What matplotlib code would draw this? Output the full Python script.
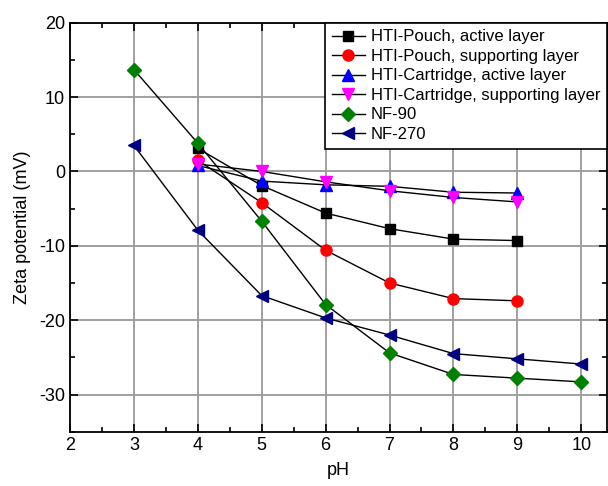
import numpy as np
import matplotlib.pyplot as plt

plt.rcParams['font.family'] = ['Liberation Sans', 'DejaVu Sans']
plt.rcParams['axes.unicode_minus'] = False

ph_short = [4, 5, 6, 7, 8, 9]
ph_long = [3, 4, 5, 6, 7, 8, 9, 10]

pouch_active = [3.1, -1.9, -5.6, -7.7, -9.1, -9.3]
pouch_support = [1.5, -4.2, -10.6, -15.0, -17.1, -17.4]
cart_active = [0.8, -1.3, -1.8, -2.0, -2.8, -2.9]
cart_support = [1.0, 0.0, -1.4, -2.6, -3.5, -4.1]
nf90 = [13.7, 3.8, -6.7, -17.9, -24.4, -27.3, -27.8, -28.3]
nf270 = [3.5, -7.9, -16.7, -19.7, -22.0, -24.5, -25.2, -25.9]

series = [
    (ph_short, pouch_active, 's', 'black', 7, 'HTI-Pouch, active layer'),
    (ph_short, pouch_support, 'o', 'red', 8, 'HTI-Pouch, supporting layer'),
    (ph_short, cart_active, '^', 'blue', 8, 'HTI-Cartridge, active layer'),
    (ph_short, cart_support, 'v', 'magenta', 8, 'HTI-Cartridge, supporting layer'),
    (ph_long, nf90, 'D', 'green', 7, 'NF-90'),
    (ph_long, nf270, '<', 'navy', 8, 'NF-270'),
]

fig = plt.figure(figsize=(6.08, 4.86), dpi=100)
ax = fig.add_axes([0.1151, 0.1117, 0.883, 0.8416])

for x, y, m, c, ms, lab in series:
    ax.plot(x, y, color='black', lw=1, marker=m, mfc=c, mec=c, ms=ms, label=lab)

ax.set_xlim(2, 10.4)
ax.set_ylim(-35, 20)
ax.set_xticks(range(2, 11))
ax.set_yticks([-30, -20, -10, 0, 10, 20])
ax.set_xticks(np.arange(2.5, 10.5, 1), minor=True)
ax.set_yticks([-35, -25, -15, -5, 5, 15], minor=True)
ax.grid(True, which='major', color='#a0a0a0', lw=1.4)
ax.set_axisbelow(True)
ax.tick_params(which='both', direction='in', top=True, right=True, labelsize=13, width=1.2)
ax.tick_params(which='major', length=6)
ax.tick_params(which='minor', length=3.5)
for s in ax.spines.values():
    s.set_linewidth(1.3)

ax.set_xlabel('pH', fontsize=13, labelpad=6)
ax.set_ylabel('Zeta potential (mV)', fontsize=13, labelpad=6)

leg = ax.legend(loc='upper right', fontsize=12, frameon=True, fancybox=False,
                edgecolor='black', framealpha=1, borderaxespad=0,
                handlelength=2.0, handletextpad=0.35, labelspacing=0.27,
                borderpad=0.4)
leg.get_frame().set_linewidth(1.2)

fig.savefig('out.png', dpi=100)
